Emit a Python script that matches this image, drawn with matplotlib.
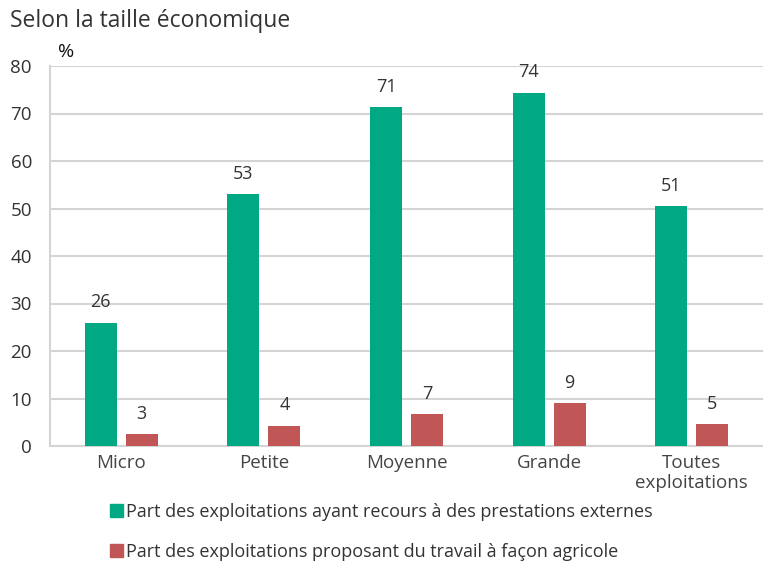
import matplotlib
matplotlib.use("Agg")
import matplotlib.pyplot as plt
import numpy as np
from matplotlib.patches import Patch

categories = ["Micro", "Petite", "Moyenne", "Grande", "Toutes\nexploitations"]
prestations = [26.0, 53.1, 71.3, 74.4, 50.6]
facon = [2.6, 4.3, 6.7, 9.0, 4.6]
series_names = ["Part des exploitations ayant recours à des prestations externes",
                "Part des exploitations proposant du travail à façon agricole"]
yticks = [0, 10, 20, 30, 40, 50, 60, 70, 80]

green = "#00A984"
red = "#C05656"
txt = "#333333"
grid = "#d4d4d4"

plt.rcParams['font.family'] = ['Open Sans', 'DejaVu Sans']

fig = plt.figure(figsize=(7.63, 5.62), dpi=100)
ax = fig.add_axes([50/763, 1-446/562, 1-50/763, (446-66)/562])

x = np.arange(len(categories))
w = 0.225
off = 0.144
b1 = ax.bar(x - off, prestations, w, color=green, zorder=3)
b2 = ax.bar(x + off, facon, w, color=red, zorder=3)
ax.bar_label(b1, labels=[f"{v:.0f}" for v in prestations], padding=8, fontsize=13, color=txt)
ax.bar_label(b2, labels=[f"{v:.0f}" for v in facon], padding=8, fontsize=13, color=txt)

ax.set_xlim(-0.5, len(categories) - 0.5)
ax.set_ylim(0, 80)
ax.set_yticks(yticks)
ax.set_yticklabels([str(t) for t in yticks], fontsize=13.5, color=txt)
ax.set_xticks(x)
ax.set_xticklabels(categories, fontsize=13.5, color="#444444", linespacing=1.1)
ax.tick_params(axis='x', length=0, pad=6)
ax.tick_params(axis='y', length=0, pad=13)
ax.yaxis.grid(True, color=grid, linewidth=1.5, zorder=0)
ax.set_axisbelow(True)
for s in ["top", "right"]:
    ax.spines[s].set_visible(False)
ax.spines["left"].set_color(grid)
ax.spines["left"].set_linewidth(1.5)
ax.spines["bottom"].set_color(grid)
ax.spines["bottom"].set_linewidth(1.5)

fig.text(10/763, 1-21/562, "Selon la taille économique", fontsize=16.5, color=txt, va="center", ha="left")
fig.text(58/763, 1-52/562, "%", fontsize=14, color="#111111", va="center", ha="left")

handles = [Patch(color=green), Patch(color=red)]
fig.legend(handles, series_names, loc="upper left", bbox_to_anchor=(110/763, 1-503/562),
           frameon=False, fontsize=13, handlelength=0.7, handleheight=0.7,
           handletextpad=0.2, labelspacing=1.2, labelcolor=txt, borderpad=0, borderaxespad=0)

fig.savefig("out.png", dpi=100)
